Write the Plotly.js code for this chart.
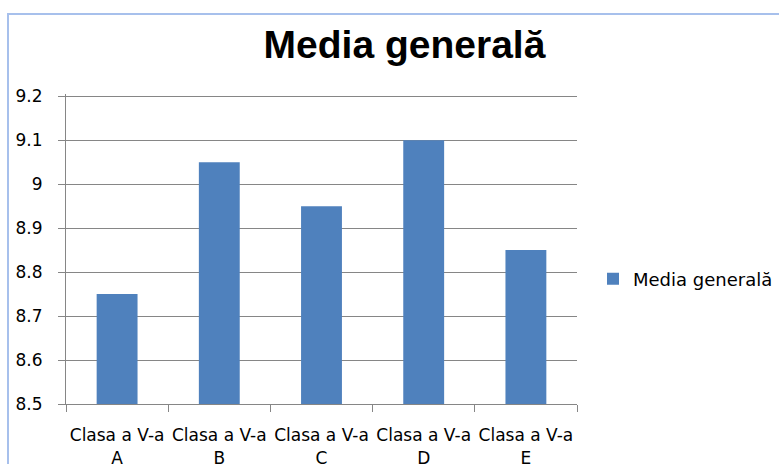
<!DOCTYPE html>
<html>
<head>
<meta charset="utf-8">
<script src="https://cdn.plot.ly/plotly-3.0.1.min.js"></script>
<style>html,body{margin:0;padding:0;background:#fff;}#chart{width:779px;height:464px;}</style>
</head>
<body>
<div id="chart"></div>
<script>
const categories = ["Clasa a V-a<br>A", "Clasa a V-a<br>B", "Clasa a V-a<br>C", "Clasa a V-a<br>D", "Clasa a V-a<br>E"];
const values = [8.75, 9.05, 8.95, 9.1, 8.85];
const seriesName = "Media generală";
const chartTitle = "Media generală";
const yTicks = [8.5, 8.6, 8.7, 8.8, 8.9, 9, 9.1, 9.2];

const W = 779, H = 464;
const L = 66, R = 577, T = 94, B = 404;
const px = x => (x - L) / (R - L);
const py = y => (B - y) / (B - T);

const trace = {
  type: 'bar', x: categories, y: values, name: seriesName,
  marker: {color: '#4f81bd'}, width: 0.4, showlegend: true
};

const layout = {
  width: W, height: H,
  margin: {l: L, r: W - R, t: T, b: H - B, pad: 0, autoexpand: false},
  paper_bgcolor: '#fff', plot_bgcolor: '#fff',
  font: {family: 'DejaVu Sans', size: 17, color: '#000'},
  title: {text: chartTitle, font: {family: 'Liberation Sans', size: 39, weight: 'bold', color: '#000'},
          x: 404.5 / W, xref: 'container', xanchor: 'center', y: 1 - 44 / H, yref: 'container', yanchor: 'middle'},
  showlegend: true,
  legend: {xref: 'container', yref: 'container', x: 593 / W, xanchor: 'left', y: 1 - 279 / H, yanchor: 'middle',
           font: {family: 'DejaVu Sans', size: 18, color: '#000'}, bgcolor: 'rgba(0,0,0,0)'},
  xaxis: {type: 'category', showline: true, linecolor: '#868686', linewidth: 1, ticks: 'outside', tickson: 'boundaries',
          ticklen: 7, tickcolor: '#868686', showgrid: false, tickangle: 0, fixedrange: true, ticklabelstandoff: 16,
          tickfont: {family: 'DejaVu Sans', size: 17, color: '#000'}},
  yaxis: {range: [8.5, 9.205], tickvals: yTicks, ticktext: yTicks.map(v => String(v)), showline: true, linecolor: '#868686', linewidth: 1,
          ticks: 'outside', ticklen: 7, tickcolor: '#868686', showgrid: true, gridcolor: '#868686', gridwidth: 1,
          zeroline: false, ticklabelstandoff: 12, tickfont: {family: 'DejaVu Sans', size: 17, color: '#000'}},
  shapes: [{type: 'rect', xref: 'paper', yref: 'paper', x0: px(8), x1: px(790), y0: py(480), y1: py(14),
            line: {color: '#a7c0ec', width: 2}, fillcolor: 'rgba(0,0,0,0)', layer: 'below'}]
};

Plotly.newPlot('chart', [trace], layout, {displayModeBar: false, staticPlot: true});
</script>
</body>
</html>
